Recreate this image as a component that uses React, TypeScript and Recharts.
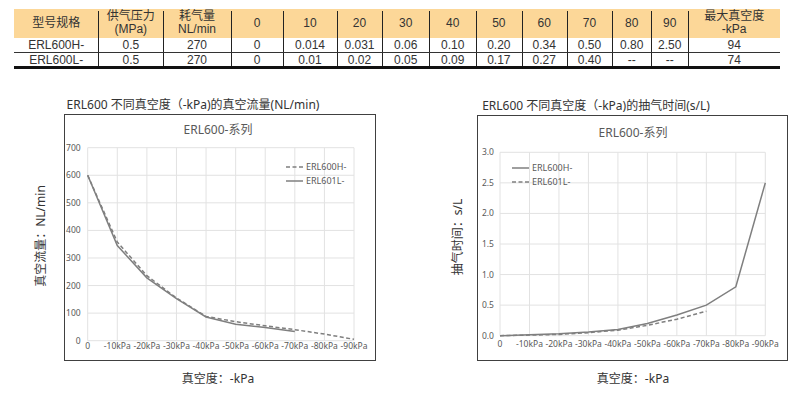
import { LineChart, Line, XAxis, YAxis, CartesianGrid } from 'recharts';

// ---- table data ----
const TABLE_HEADERS = ['型号规格', '供气压力\n(MPa)', '耗气量\nNL/min', '0', '10', '20', '30', '40', '50', '60', '70', '80', '90', '最大真空度\n-kPa'];
const ROW_H = ['ERL600H-', '0.5', '270', '0', '0.014', '0.031', '0.06', '0.10', '0.20', '0.34', '0.50', '0.80', '2.50', '94'];
const ROW_L = ['ERL600L-', '0.5', '270', '0', '0.01', '0.02', '0.05', '0.09', '0.17', '0.27', '0.40', '--', '--', '74'];

// ---- chart data ----
const VACUUM = [0, 10, 20, 30, 40, 50, 60, 70, 80, 90];
const FLOW_H = [600, 358, 236, 155, 88, 69, 54, 40, 24, 5];
const FLOW_L = [600, 345, 228, 153, 86, 60, 48, 33, null, null];
const TIME_H = [0, 0.014, 0.031, 0.06, 0.1, 0.2, 0.34, 0.5, 0.8, 2.5];
const TIME_L = [0, 0.01, 0.02, 0.05, 0.09, 0.17, 0.27, 0.4, null, null];

const X_TICKS = [0, 10, 20, 30, 40, 50, 60, 70, 80, 90];
const GRID_TICKS = [0, 5, 10, 15, 20, 25, 30, 35, 40, 45, 50, 55, 60, 65, 70, 75, 80, 85, 90];
const FLOW_TICKS = [0, 100, 200, 300, 400, 500, 600, 700];
const TIME_TICKS = [0, 0.5, 1, 1.5, 2, 2.5, 3];

const flowData = VACUUM.map((v, i) => ({ kpa: v, h: FLOW_H[i], l: FLOW_L[i] }));
const timeData = VACUUM.map((v, i) => ({ kpa: v, h: TIME_H[i], l: TIME_L[i] }));

// column edges of the spec table (layout)
const COL_EDGES = [14, 98.3, 163.3, 230.7, 283.3, 336.7, 382.3, 429.3, 476, 521.7, 566.7, 612.3, 651, 688.3, 780];

const FONT = '"Noto Sans", "Noto Sans CJK SC", sans-serif';
const TABLE_FONT = '"Liberation Sans", "Noto Sans CJK SC", sans-serif';
const LINE_COLOR = '#7f7f7f';
const GRID_COLOR = '#e2e2e2';
const TICK = { fill: '#595959', fontSize: 8.5, fontFamily: FONT };

const xFmt = (v: number) => (v === 0 ? '0' : `-${v}kPa`);

function SpecTable() {
    const cell = (text: string, i: number, top: number, height: number, size: number, lh: number) => (
        <div
            key={i}
            style={{
                position: 'absolute',
                left: COL_EDGES[i],
                top,
                width: COL_EDGES[i + 1] - COL_EDGES[i],
                height,
                display: 'flex',
                alignItems: 'center',
                justifyContent: 'center',
                textAlign: 'center',
                whiteSpace: 'pre',
                fontSize: size,
                lineHeight: `${lh}px`,
                color: '#333',
            }}
        >
            {text}
        </div>
    );
    return (
        <div style={{ position: 'absolute', left: 0, top: 0, width: 801, height: 70, fontFamily: TABLE_FONT }}>
            <div style={{ position: 'absolute', left: 14, top: 9.3, width: 766, height: 28.4, background: '#fcd798' }} />
            {TABLE_HEADERS.map((t, i) => cell(t, i, 9.3, 28.4, 12, 13.5))}
            {ROW_H.map((t, i) => cell(t, i, 38.5, 13, 12, 13))}
            {ROW_L.map((t, i) => cell(t, i, 54, 12, 12, 12))}
            {COL_EDGES.slice(1, -1).map((x, i) => (
                <div key={i} style={{ position: 'absolute', left: x, top: 11, width: 1, height: 55.5, background: '#222' }} />
            ))}
            <div style={{ position: 'absolute', left: 14, top: 52.3, width: 766, height: 1, background: '#333' }} />
            <div style={{ position: 'absolute', left: 14, top: 66, width: 766, height: 2.5, background: '#111' }} />
        </div>
    );
}

function LegendBox({ items, left, top }: { items: { name: string; dashed: boolean }[]; left: number; top: number }) {
    return (
        <div style={{ position: 'absolute', left, top }}>
            {items.map((it) => (
                <div key={it.name} style={{ display: 'flex', alignItems: 'center', height: 14.5 }}>
                    <svg width={17} height={4} style={{ marginRight: 3 }}>
                        <line x1={0} y1={2} x2={17} y2={2} stroke={LINE_COLOR} strokeWidth={1.5} strokeDasharray={it.dashed ? '4 2.5' : undefined} />
                    </svg>
                    <span style={{ fontSize: 9, color: '#595959', fontFamily: FONT, lineHeight: '14px' }}>{it.name}</span>
                </div>
            ))}
        </div>
    );
}

function Text({ x, y, children, size = 12, color = '#333', rotate = false }: any) {
    return (
        <div
            style={{
                position: 'absolute',
                left: x,
                top: y,
                transform: `translate(-50%, -50%)${rotate ? ' rotate(-90deg)' : ''}`,
                whiteSpace: 'nowrap',
                fontSize: size,
                color,
                fontFamily: FONT,
                lineHeight: 1,
            }}
        >
            {children}
        </div>
    );
}

export default function App() {
    return (
        <div style={{ position: 'absolute', left: 0, top: 0, width: 801, height: 395, background: '#fff', overflow: 'hidden' }}>
            <SpecTable />

            {/* ---- chart 1: vacuum flow ---- */}
            <Text x={193} y={105}>ERL600 不同真空度（-kPa)的真空流量(NL/min)</Text>
            <div style={{ position: 'absolute', left: 64, top: 114, width: 311.5, height: 246.5, border: '1.5px solid #404040', boxSizing: 'border-box' }} />
            <Text x={218} y={130} color="#595959">ERL600-系列</Text>
            <Text x={41} y={236} rotate>真空流量：NL/min</Text>
            <Text x={218} y={379}>真空度：-kPa</Text>
            <div style={{ position: 'absolute', left: 64, top: 114 }}>
                <LineChart width={312} height={246} data={flowData} margin={{ top: 33.7, right: 22, bottom: 0, left: 0 }}>
                    <XAxis xAxisId="grid" type="number" dataKey="kpa" domain={[0, 90]} ticks={GRID_TICKS} hide />
                    <CartesianGrid xAxisId="grid" stroke={GRID_COLOR} strokeWidth={1} />
                    <XAxis
                        type="number"
                        dataKey="kpa"
                        domain={[0, 90]}
                        ticks={X_TICKS}
                        interval={0}
                        tickFormatter={xFmt}
                        tick={TICK}
                        axisLine={false}
                        tickLine={false}
                        tickSize={0}
                        tickMargin={2}
                        height={19.3}
                    />
                    <YAxis
                        domain={[0, 700]}
                        ticks={FLOW_TICKS}
                        interval={0}
                        tick={TICK}
                        axisLine={false}
                        tickLine={false}
                        tickSize={0}
                        tickMargin={7}
                        width={23.7}
                    />
                    <Line dataKey="h" name="ERL600H-" stroke={LINE_COLOR} strokeWidth={1.5} strokeDasharray="4 2.5" dot={false} isAnimationActive={false} />
                    <Line dataKey="l" name="ERL601L-" stroke={LINE_COLOR} strokeWidth={1.5} dot={false} isAnimationActive={false} />
                </LineChart>
            </div>
            <LegendBox left={286} top={159.5} items={[{ name: 'ERL600H-', dashed: true }, { name: 'ERL601L-', dashed: false }]} />

            {/* ---- chart 2: evacuation time ---- */}
            <Text x={596} y={105.5}>ERL600 不同真空度（-kPa)的抽气时间(s/L)</Text>
            <div style={{ position: 'absolute', left: 477, top: 114.5, width: 311, height: 246, border: '1.5px solid #404040', boxSizing: 'border-box' }} />
            <Text x={633} y={133} color="#595959">ERL600-系列</Text>
            <Text x={458} y={237} rotate>抽气时间：s/L</Text>
            <Text x={633} y={379}>真空度：-kPa</Text>
            <div style={{ position: 'absolute', left: 477, top: 114 }}>
                <LineChart width={311} height={246} data={timeData} margin={{ top: 38.3, right: 22.7, bottom: 5.3, left: 0 }}>
                    <XAxis xAxisId="grid" type="number" dataKey="kpa" domain={[0, 90]} ticks={GRID_TICKS} hide />
                    <CartesianGrid xAxisId="grid" stroke={GRID_COLOR} strokeWidth={1} />
                    <XAxis
                        type="number"
                        dataKey="kpa"
                        domain={[0, 90]}
                        ticks={X_TICKS}
                        interval={0}
                        tickFormatter={xFmt}
                        tick={TICK}
                        axisLine={false}
                        tickLine={false}
                        tickSize={0}
                        tickMargin={5.5}
                        height={19}
                    />
                    <YAxis
                        domain={[0, 3]}
                        ticks={TIME_TICKS}
                        interval={0}
                        tickFormatter={(v: number) => v.toFixed(1)}
                        tick={TICK}
                        axisLine={false}
                        tickLine={false}
                        tickSize={0}
                        tickMargin={6}
                        width={23}
                    />
                    <Line dataKey="h" name="ERL600H-" stroke={LINE_COLOR} strokeWidth={1.5} dot={false} isAnimationActive={false} />
                    <Line dataKey="l" name="ERL601L-" stroke={LINE_COLOR} strokeWidth={1.5} strokeDasharray="4 2.5" dot={false} isAnimationActive={false} />
                </LineChart>
            </div>
            <LegendBox left={512} top={160.5} items={[{ name: 'ERL600H-', dashed: false }, { name: 'ERL601L-', dashed: true }]} />
        </div>
    );
}
